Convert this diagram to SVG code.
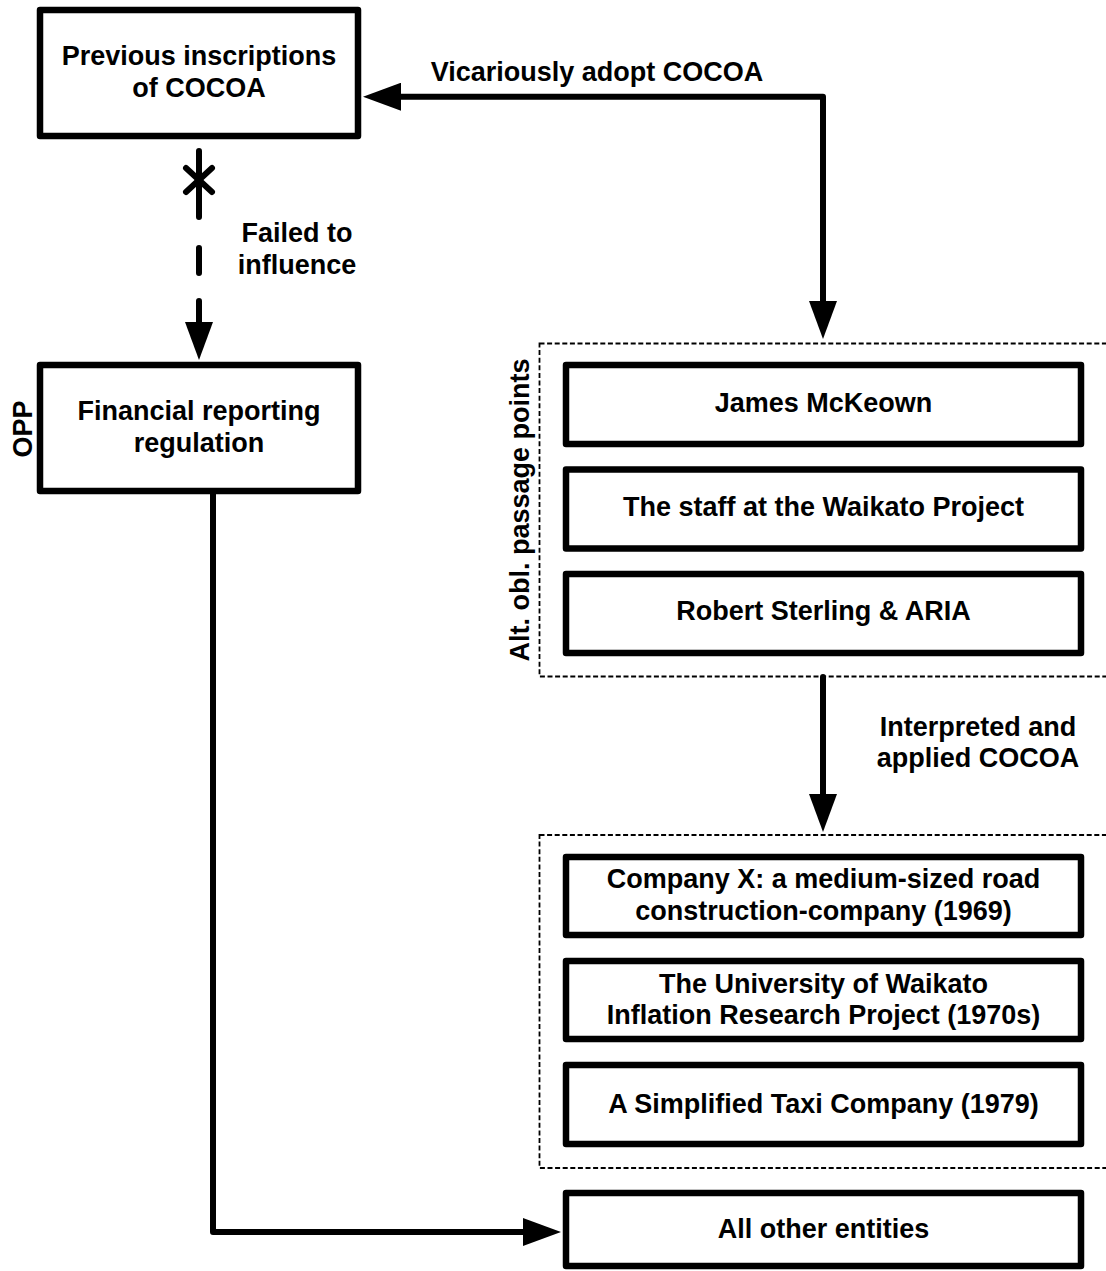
<svg xmlns="http://www.w3.org/2000/svg" width="1106" height="1271" viewBox="0 0 1106 1271">
  <style>
    .box { fill: #fff; stroke: #000; stroke-width: 6.5; stroke-linejoin: round; }
    .lbl { font-family: "Liberation Sans", Arial, Helvetica, sans-serif; font-weight: bold; font-size: 27px; text-anchor: middle; fill: #000; }
    .grp { fill: none; stroke: #000; stroke-width: 1.8; stroke-dasharray: 5 2.6; }
    .wire { fill: none; stroke: #000; stroke-width: 6; stroke-linejoin: round; stroke-linecap: round; }
  </style>
  <defs>
    <marker id="head" viewBox="0 0 38 28" refX="18" refY="14" markerWidth="38" markerHeight="28" markerUnits="userSpaceOnUse" orient="auto-start-reverse">
      <path d="M0,0 L38,14 L0,28 z" fill="#000"/>
    </marker>
  </defs>
  <rect width="1106" height="1271" fill="#fff"/>

  <!-- dashed groupings -->
  <g id="passage-points-group">
    <rect class="grp" x="539.5" y="343.5" width="600" height="333"/>
    <text class="lbl" transform="translate(529,510) rotate(-90)">Alt. obl. passage points</text>
  </g>
  <g id="applications-group">
    <rect class="grp" x="539.5" y="835" width="600" height="333"/>
  </g>

  <!-- connectors -->
  <g id="connectors">
    <!-- failed influence: dashed, crossed out -->
    <path class="wire" d="M199,151 L199,340" stroke-dasharray="66 31 25 28 200" marker-end="url(#head)"/>
    <line class="wire" x1="186" y1="168" x2="212" y2="192" stroke-width="5"/>
    <line class="wire" x1="212" y1="168" x2="186" y2="192" stroke-width="5"/>
    <text class="lbl" x="297" y="242">Failed to</text>
    <text class="lbl" x="297" y="274">influence</text>

    <!-- vicarious adoption, pointing both ways -->
    <path class="wire" d="M383,96.7 L823,96.7 L823,319" marker-start="url(#head)" marker-end="url(#head)"/>
    <text class="lbl" x="597" y="81">Vicariously adopt COCOA</text>

    <!-- interpretation and application -->
    <path class="wire" d="M823,677 L823,812" marker-end="url(#head)"/>
    <text class="lbl" x="978" y="736">Interpreted and</text>
    <text class="lbl" x="978" y="767">applied COCOA</text>

    <!-- regulation to all other entities -->
    <path class="wire" d="M213,494 L213,1232 L541,1232" marker-end="url(#head)"/>
  </g>

  <!-- nodes -->
  <g id="previous-inscriptions">
    <rect class="box" x="40" y="10" width="318" height="126"/>
    <text class="lbl" x="199" y="65">Previous inscriptions</text>
    <text class="lbl" x="199" y="97">of COCOA</text>
  </g>

  <g id="financial-reporting-regulation">
    <rect class="box" x="40" y="365" width="318" height="126"/>
    <text class="lbl" x="199" y="420">Financial reporting</text>
    <text class="lbl" x="199" y="452">regulation</text>
    <text class="lbl" transform="translate(32,429) rotate(-90)">OPP</text>
  </g>

  <g id="james-mckeown">
    <rect class="box" x="566" y="365" width="515" height="79"/>
    <text class="lbl" x="823.5" y="412">James McKeown</text>
  </g>

  <g id="waikato-staff">
    <rect class="box" x="566" y="469.5" width="515" height="79"/>
    <text class="lbl" x="823.5" y="516">The staff at the Waikato Project</text>
  </g>

  <g id="sterling-aria">
    <rect class="box" x="566" y="574" width="515" height="79"/>
    <text class="lbl" x="823.5" y="620">Robert Sterling &amp; ARIA</text>
  </g>

  <g id="company-x">
    <rect class="box" x="566" y="857" width="515" height="78"/>
    <text class="lbl" x="823.5" y="888">Company X: a medium-sized road</text>
    <text class="lbl" x="823.5" y="920">construction-company (1969)</text>
  </g>

  <g id="waikato-inflation-project">
    <rect class="box" x="566" y="961" width="515" height="78"/>
    <text class="lbl" x="823.5" y="993">The University of Waikato</text>
    <text class="lbl" x="823.5" y="1024">Inflation Research Project (1970s)</text>
  </g>

  <g id="taxi-company">
    <rect class="box" x="566" y="1065" width="515" height="79"/>
    <text class="lbl" x="823.5" y="1113">A Simplified Taxi Company (1979)</text>
  </g>

  <g id="all-other-entities">
    <rect class="box" x="566" y="1193" width="515" height="73"/>
    <text class="lbl" x="823.5" y="1238">All other entities</text>
  </g>
</svg>
